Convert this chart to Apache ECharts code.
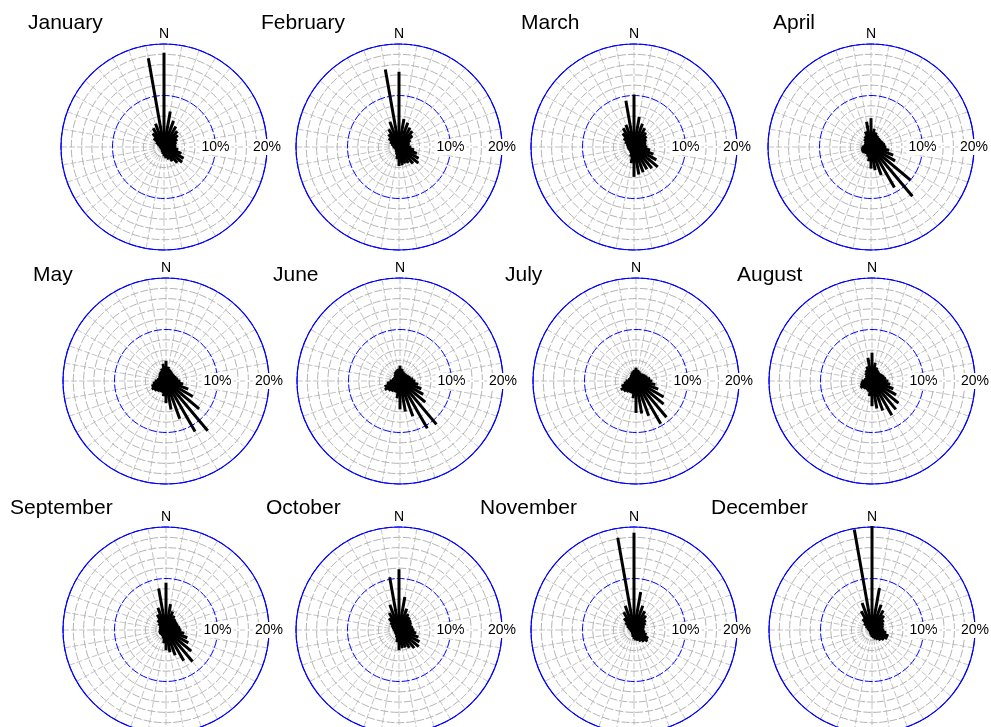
<!DOCTYPE html>
<html>
<head>
<meta charset="utf-8">
<script src="https://cdn.jsdelivr.net/npm/echarts@6/dist/echarts.min.js"></script>
<style>
  html, body { margin: 0; padding: 0; background: #fff; }
  #chart { width: 991px; height: 727px; }
</style>
</head>
<body>
<div id="chart"></div>
<script>
// Monthly wind-direction frequency (%), one value per 10° sector, clockwise from north.
const months = ['January', 'February', 'March', 'April', 'May', 'June',
                'July', 'August', 'September', 'October', 'November', 'December'];
const directions = [0, 10, 20, 30, 40, 50, 60, 70, 80, 90, 100, 110,
                    120, 130, 140, 150, 160, 170, 180, 190, 200, 210, 220, 230,
                    240, 250, 260, 270, 280, 290, 300, 310, 320, 330, 340, 350];
const radiusTickLabels = [10, 20];
const northLabel = 'N';

const january   = [18.3, 7.0, 5.4, 4.6, 4.0, 3.5, 3.0, 2.6, 2.4, 2.4, 2.8, 3.6,
                   4.4, 4.6, 4.0, 3.2, 2.6, 2.2, 1.8, 1.4, 1.1, 0.9, 0.8, 0.7,
                   0.7, 0.7, 0.8, 0.9, 1.0, 1.3, 1.8, 2.6, 3.4, 4.2, 4.8, 17.5];
const february  = [14.6, 5.5, 5.0, 4.3, 4.0, 3.4, 2.6, 2.2, 2.0, 2.4, 3.0, 3.7,
                   4.4, 4.9, 4.2, 3.6, 3.4, 3.6, 3.7, 2.4, 1.6, 1.2, 1.0, 0.9,
                   0.9, 0.9, 1.0, 1.2, 1.3, 1.6, 2.0, 2.6, 3.2, 4.0, 5.2, 15.3];
const march     = [10.2, 5.9, 4.8, 4.2, 3.6, 3.2, 2.8, 2.5, 2.4, 2.6, 3.2, 4.0,
                   5.0, 6.0, 5.4, 5.0, 5.2, 5.4, 5.8, 3.2, 2.0, 1.4, 1.2, 1.2,
                   1.2, 1.2, 1.3, 1.4, 1.4, 1.6, 2.0, 2.6, 3.4, 4.2, 4.6, 9.1];
const april     = [5.6, 3.6, 3.0, 2.6, 2.4, 2.4, 2.4, 2.6, 2.8, 3.0, 3.6, 4.6,
                   5.4, 10.0, 12.5, 9.1, 5.8, 4.6, 4.2, 2.8, 2.0, 1.7, 1.7, 1.8,
                   2.0, 2.0, 1.9, 1.8, 1.5, 1.4, 1.4, 1.6, 2.0, 2.4, 3.2, 5.0];
const may       = [3.9, 2.8, 2.4, 2.2, 2.0, 2.0, 2.0, 2.2, 2.4, 2.8, 3.4, 4.6,
                   6.0, 8.4, 12.6, 11.3, 7.8, 5.6, 4.3, 3.0, 2.4, 2.4, 2.6, 2.9,
                   3.2, 3.0, 2.6, 2.2, 1.8, 1.6, 1.6, 1.8, 2.0, 2.2, 2.6, 3.4];
const june      = [3.0, 2.4, 2.0, 1.8, 1.8, 1.8, 2.0, 2.2, 2.6, 3.0, 3.6, 4.4,
                   5.2, 6.4, 11.0, 10.6, 7.3, 6.0, 5.5, 3.4, 2.4, 2.4, 2.6, 2.9,
                   3.4, 3.2, 2.6, 2.0, 1.6, 1.4, 1.4, 1.5, 1.7, 2.0, 2.2, 2.4];
const july      = [2.6, 2.2, 2.0, 1.8, 1.8, 2.0, 2.2, 2.4, 2.8, 3.2, 3.8, 4.6,
                   6.2, 7.0, 9.2, 9.6, 7.2, 6.4, 6.2, 3.4, 2.6, 2.6, 2.8, 3.1,
                   3.4, 3.0, 2.4, 2.0, 1.6, 1.4, 1.4, 1.5, 1.6, 1.8, 2.0, 2.2];
const august    = [5.5, 3.6, 2.8, 2.4, 2.2, 2.2, 2.4, 2.6, 2.8, 3.2, 3.6, 4.4,
                   5.4, 6.7, 7.2, 7.7, 6.1, 5.4, 4.9, 3.0, 2.2, 2.0, 2.0, 2.2,
                   2.6, 2.4, 2.2, 2.0, 1.6, 1.4, 1.4, 1.6, 2.0, 2.4, 3.0, 4.6];
const september = [9.2, 5.1, 3.8, 3.2, 2.8, 2.6, 2.6, 2.6, 2.8, 3.0, 3.6, 4.4,
                   5.0, 6.4, 8.0, 6.9, 5.2, 4.4, 3.9, 2.6, 1.8, 1.5, 1.4, 1.4,
                   1.5, 1.5, 1.4, 1.4, 1.3, 1.3, 1.5, 1.9, 2.5, 3.4, 4.6, 8.2];
const october   = [11.8, 6.5, 4.4, 3.6, 3.2, 3.0, 2.8, 2.6, 2.8, 3.0, 3.4, 4.0,
                   4.6, 5.0, 4.6, 4.0, 3.6, 3.6, 3.9, 2.4, 1.6, 1.2, 1.1, 1.0,
                   1.0, 1.0, 1.0, 1.1, 1.2, 1.4, 1.7, 2.2, 3.0, 3.8, 5.2, 10.4];
const november  = [18.9, 7.5, 5.0, 4.2, 3.6, 3.0, 2.6, 2.2, 2.0, 2.0, 2.2, 2.6,
                   3.2, 3.4, 3.0, 2.6, 2.2, 2.0, 1.8, 1.4, 1.0, 0.8, 0.7, 0.7,
                   0.7, 0.7, 0.7, 0.8, 0.9, 1.2, 1.6, 2.2, 3.0, 4.0, 5.0, 18.2];
const december  = [20.2, 8.3, 5.2, 4.4, 3.6, 3.0, 2.6, 2.4, 2.2, 2.4, 2.8, 3.4,
                   3.4, 3.0, 2.6, 2.2, 1.9, 1.6, 1.4, 1.1, 0.9, 0.7, 0.6, 0.6,
                   0.6, 0.6, 0.6, 0.7, 0.8, 1.0, 1.4, 2.0, 2.8, 4.2, 5.6, 19.8];

const monthlyFrequency = [january, february, march, april, may, june,
                          july, august, september, october, november, december];

// Panel layout: rose centres and title anchors (pixels).
const roseCenters = [[164, 147], [399, 147], [634, 147], [871, 147],
                     [166, 381], [400, 381], [636, 381], [872, 381],
                     [166, 630], [399, 630], [634, 630], [872, 630]];
const titleAnchors = [[28, 13], [261, 13], [521, 13], [773, 13],
                      [33, 265], [273, 265], [505, 265], [737, 265],
                      [10, 498], [266, 498], [480, 498], [711, 498]];
const ROSE_RADIUS = 103;
const FONT = 'Liberation Sans, Arial, Helvetica, sans-serif';

// The angle axis starts at 3 o'clock and runs clockwise, so compass
// bearing b sits at angle value (b + 270) mod 360 and the radius axis
// (with its % labels) points east.
const toAngle = b => (b + 270) % 360;

const polar = [], angleAxis = [], radiusAxis = [], series = [], title = [];

months.forEach((name, i) => {
  title.push({
    text: name,
    left: titleAnchors[i][0],
    top: titleAnchors[i][1],
    padding: 0,
    textStyle: { fontFamily: FONT, fontSize: 21, fontWeight: 'normal', color: '#000' }
  });

  polar.push({ center: roseCenters[i], radius: ROSE_RADIUS });

  angleAxis.push({
    polarIndex: i,
    type: 'value',
    min: 0,
    max: 360,
    interval: 10,
    startAngle: 0,
    clockwise: true,
    z: 0,
    axisLine: { show: true, lineStyle: { color: '#0000ff', width: 1.2 } },
    axisTick: { show: false },
    axisLabel: {
      show: true,
      margin: 3,
      color: '#000',
      fontFamily: FONT,
      fontSize: 14,
      formatter: v => (v === toAngle(0) ? northLabel : '')
    },
    splitLine: { show: true, lineStyle: { color: '#c4c4c4', width: 1, type: [6, 2] } }
  });

  radiusAxis.push({
    polarIndex: i,
    type: 'value',
    min: 0,
    max: 20,
    interval: 2,
    z: 1,
    axisLine: { show: false },
    axisTick: { show: false },
    axisLabel: {
      show: true,
      showMaxLabel: true,
      hideOverlap: false,
      margin: 0,
      align: 'center',
      verticalAlign: 'middle',
      color: '#000',
      fontFamily: FONT,
      fontSize: 14,
      backgroundColor: '#fff',
      padding: [1, 2],
      formatter: v => (radiusTickLabels.indexOf(v) >= 0 ? v + '%' : '')
    },
    splitLine: {
      show: true,
      lineStyle: {
        // every fifth ring (10 %, 20 %) in blue
        color: ['#0000ff', '#b4b4b4', '#b4b4b4', '#b4b4b4', '#b4b4b4'],
        width: 1,
        type: [8, 2]
      }
    }
  });

  series.push({
    type: 'custom',
    coordinateSystem: 'polar',
    polarIndex: i,
    z: 3,
    silent: true,
    data: monthlyFrequency[i].map((v, k) => [v, toAngle(directions[k])]),
    renderItem: (params, api) => {
      const r = api.value(0);
      const a = api.value(1);
      const p0 = api.coord([0, a]);
      const p1 = api.coord([r, a]);
      return {
        type: 'line',
        shape: { x1: p0[0], y1: p0[1], x2: p1[0], y2: p1[1] },
        style: { stroke: '#000', lineWidth: 3, lineCap: 'butt' }
      };
    }
  });
});

const chart = echarts.init(document.getElementById('chart'), null, { renderer: 'canvas' });
chart.setOption({
  animation: false,
  backgroundColor: '#fff',
  title, polar, angleAxis, radiusAxis, series
});
</script>
</body>
</html>
